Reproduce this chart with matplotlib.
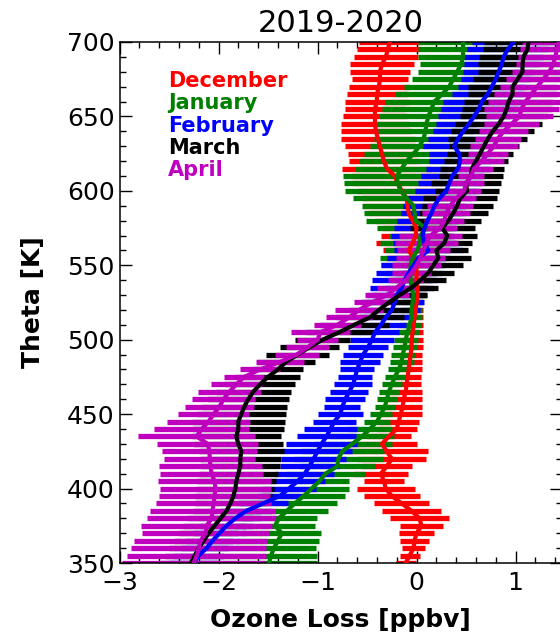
import numpy as np
import matplotlib
matplotlib.use("Agg")
import matplotlib.pyplot as plt
from matplotlib.ticker import MultipleLocator

# potential temperature levels (K), every 5 K
theta = np.arange(350, 701, 5)

months = ["December", "January", "February", "March", "April"]
colors = ["#ff0000", "#008000", "#0000ff", "#000000", "#bf00bf"]

# mean ozone loss (ppbv) per level, 350 K -> 700 K
dec_mean = [-0.11, -0.07, -0.03, -0.02, 0.00, 0.05, 0.03, -0.05, -0.15, -0.25,
            -0.31, -0.33, -0.36, -0.30, -0.25, -0.30, -0.35, -0.28, -0.20, -0.18,
            -0.16, -0.14, -0.13, -0.11, -0.10, -0.09, -0.08, -0.07, -0.06, -0.05,
            -0.05, -0.04, -0.03, -0.02, -0.01, 0.00, 0.01, 0.01, 0.00, 0.00,
            0.00, -0.03, -0.08, -0.04, -0.01, 0.00, -0.04, -0.08, -0.09, -0.10,
            -0.15, -0.19, -0.22, -0.30, -0.33, -0.35, -0.37, -0.39, -0.41, -0.42,
            -0.42, -0.42, -0.40, -0.40, -0.38, -0.37, -0.37, -0.35, -0.31, -0.29, -0.27]
dec_err = [0.10, 0.10, 0.12, 0.15, 0.18, 0.22, 0.30, 0.30, 0.28, 0.28,
           0.29, 0.20, 0.27, 0.25, 0.35, 0.42, 0.35, 0.22, 0.20, 0.20,
           0.22, 0.20, 0.18, 0.16, 0.14, 0.13, 0.13, 0.12, 0.12, 0.12,
           0.12, 0.11, 0.10, 0.09, 0.08, 0.07, 0.08, 0.10, 0.15, 0.20,
           0.25, 0.28, 0.26, 0.37, 0.35, 0.35, 0.38, 0.40, 0.45, 0.45,
           0.45, 0.45, 0.44, 0.45, 0.35, 0.34, 0.35, 0.37, 0.35, 0.34,
           0.32, 0.30, 0.32, 0.30, 0.30, 0.28, 0.30, 0.32, 0.32, 0.31, 0.31]

jan_mean = [-1.49, -1.47, -1.44, -1.40, -1.36, -1.43, -1.39, -1.31, -1.23, -1.14,
            -1.06, -0.98, -0.92, -0.80, -0.79, -0.75, -0.65, -0.55, -0.47, -0.40,
            -0.36, -0.32, -0.30, -0.28, -0.25, -0.22, -0.18, -0.15, -0.14, -0.12,
            -0.11, -0.09, -0.07, -0.05, -0.05, -0.04, -0.03, -0.05, -0.06, -0.06,
            -0.06, -0.04, 0.01, 0.03, 0.04, 0.09, -0.01, -0.02, -0.03, -0.10,
            -0.16, -0.19, -0.20, -0.15, -0.10, -0.03, 0.03, 0.07, 0.09, 0.10,
            0.12, 0.15, 0.18, 0.26, 0.33, 0.37, 0.41, 0.45, 0.47, 0.47, 0.47]
jan_err = [0.48, 0.46, 0.42, 0.41, 0.40, 0.40, 0.38, 0.42, 0.43, 0.42,
           0.38, 0.30, 0.40, 0.38, 0.45, 0.42, 0.40, 0.32, 0.22, 0.13,
           0.11, 0.10, 0.10, 0.10, 0.10, 0.10, 0.11, 0.12, 0.12, 0.12,
           0.12, 0.11, 0.11, 0.11, 0.11, 0.11, 0.14, 0.17, 0.22, 0.26,
           0.30, 0.33, 0.33, 0.40, 0.32, 0.49, 0.50, 0.51, 0.52, 0.54,
           0.56, 0.54, 0.54, 0.47, 0.48, 0.50, 0.50, 0.50, 0.48, 0.50,
           0.50, 0.50, 0.50, 0.48, 0.46, 0.42, 0.40, 0.42, 0.46, 0.46, 0.46]

feb_mean = [-2.25, -2.20, -2.12, -2.06, -1.99, -1.92, -1.83, -1.72, -1.55, -1.38,
            -1.29, -1.20, -1.13, -1.08, -1.04, -1.00, -0.96, -0.91, -0.87, -0.83,
            -0.77, -0.75, -0.72, -0.68, -0.64, -0.62, -0.60, -0.57, -0.54, -0.49,
            -0.45, -0.42, -0.36, -0.31, -0.25, -0.22, -0.20, -0.15, -0.12, -0.08,
            -0.03, 0.02, 0.12, 0.08, 0.06, 0.08, 0.11, 0.15, 0.18, 0.23,
            0.30, 0.33, 0.36, 0.42, 0.44, 0.43, 0.38, 0.42, 0.47, 0.53,
            0.58, 0.63, 0.66, 0.72, 0.76, 0.80, 0.83, 0.86, 0.88, 0.92, 0.98]
feb_err = [0.25, 0.26, 0.26, 0.27, 0.27, 0.27, 0.26, 0.25, 0.25, 0.22,
           0.27, 0.28, 0.30, 0.30, 0.33, 0.35, 0.36, 0.30, 0.27, 0.22,
           0.23, 0.18, 0.20, 0.19, 0.19, 0.17, 0.17, 0.20, 0.20, 0.20,
           0.22, 0.24, 0.25, 0.27, 0.28, 0.30, 0.30, 0.32, 0.33, 0.33,
           0.33, 0.32, 0.35, 0.32, 0.32, 0.31, 0.31, 0.31, 0.32, 0.32,
           0.32, 0.32, 0.32, 0.32, 0.31, 0.30, 0.31, 0.30, 0.30, 0.33,
           0.36, 0.38, 0.39, 0.36, 0.34, 0.35, 0.36, 0.38, 0.40, 0.41, 0.42]

mar_mean = [-2.28, -2.24, -2.20, -2.15, -2.10, -2.04, -1.98, -1.92, -1.88, -1.85,
            -1.83, -1.82, -1.80, -1.78, -1.78, -1.77, -1.80, -1.82, -1.80, -1.80,
            -1.77, -1.74, -1.70, -1.65, -1.58, -1.50, -1.40, -1.32, -1.20, -1.08,
            -0.95, -0.78, -0.63, -0.47, -0.38, -0.28, -0.17, -0.05, 0.04, 0.12,
            0.17, 0.22, 0.20, 0.28, 0.31, 0.26, 0.32, 0.37, 0.41, 0.44,
            0.51, 0.50, 0.55, 0.56, 0.60, 0.64, 0.68, 0.72, 0.77, 0.83,
            0.88, 0.91, 0.93, 0.97, 0.97, 1.02, 1.07, 1.07, 1.08, 1.12, 1.13]
mar_err = [0.30, 0.30, 0.30, 0.30, 0.30, 0.32, 0.33, 0.34, 0.36, 0.39,
           0.39, 0.40, 0.40, 0.40, 0.41, 0.43, 0.45, 0.45, 0.46, 0.47,
           0.45, 0.43, 0.41, 0.38, 0.35, 0.32, 0.25, 0.29, 0.32, 0.30,
           0.28, 0.34, 0.35, 0.34, 0.30, 0.28, 0.28, 0.27, 0.26, 0.26,
           0.30, 0.33, 0.32, 0.28, 0.30, 0.33, 0.33, 0.35, 0.36, 0.37,
           0.32, 0.35, 0.32, 0.32, 0.32, 0.33, 0.35, 0.40, 0.42, 0.44,
           0.44, 0.45, 0.45, 0.45, 0.45, 0.45, 0.45, 0.45, 0.45, 0.45, 0.45]

apr_mean = [-2.25, -2.22, -2.20, -2.18, -2.13, -2.12, -2.07, -2.06, -2.05, -2.04,
            -2.03, -2.04, -2.07, -2.08, -2.09, -2.09, -2.11, -2.22, -2.17, -2.10,
            -2.05, -1.99, -1.95, -1.89, -1.82, -1.74, -1.58, -1.38, -1.21, -1.10,
            -1.00, -0.97, -0.80, -0.68, -0.58, -0.45, -0.30, -0.20, -0.11, -0.05,
            0.00, 0.04, 0.07, 0.10, 0.14, 0.24, 0.28, 0.30, 0.34, 0.40,
            0.48, 0.50, 0.55, 0.58, 0.66, 0.72, 0.78, 0.82, 0.88, 0.96,
            1.04, 1.06, 1.10, 1.16, 1.22, 1.28, 1.34, 1.38, 1.40, 1.42, 1.44]
apr_err = [0.72, 0.70, 0.68, 0.67, 0.64, 0.66, 0.65, 0.63, 0.58, 0.56,
           0.56, 0.57, 0.52, 0.52, 0.46, 0.48, 0.51, 0.59, 0.48, 0.42,
           0.36, 0.35, 0.32, 0.32, 0.26, 0.20, 0.20, 0.24, 0.22, 0.22,
           0.21, 0.30, 0.24, 0.23, 0.24, 0.18, 0.22, 0.20, 0.18, 0.20,
           0.25, 0.25, 0.27, 0.32, 0.32, 0.17, 0.20, 0.24, 0.23, 0.20,
           0.17, 0.18, 0.13, 0.19, 0.22, 0.20, 0.24, 0.23, 0.25, 0.28,
           0.34, 0.38, 0.38, 0.38, 0.38, 0.38, 0.38, 0.38, 0.38, 0.38, 0.38]

means = [dec_mean, jan_mean, feb_mean, mar_mean, apr_mean]
errs = [dec_err, jan_err, feb_err, mar_err, apr_err]

fig = plt.figure(figsize=(5.6, 6.4), dpi=100)
ax = fig.add_axes([0.2134, 0.1203, 0.790, 0.8141])

# spread bars first, then the mean profiles on top
for m, e, c in zip(means, errs, colors):
    m = np.asarray(m)
    e = np.asarray(e)
    ax.hlines(theta, m - e, m + e, color=c, lw=3.8, capstyle="butt", zorder=2)
for m, c in zip(means, colors):
    ax.plot(m, theta, color=c, lw=3.0, zorder=3)

ax.set_xlim(-3, 1.468)
ax.set_ylim(350, 700)
ax.xaxis.set_major_locator(MultipleLocator(1))
ax.xaxis.set_minor_locator(MultipleLocator(0.2))
ax.yaxis.set_major_locator(MultipleLocator(50))
ax.yaxis.set_minor_locator(MultipleLocator(10))
ax.tick_params(which="both", direction="in", top=True, right=True, width=1.0)
ax.tick_params(which="major", length=8.5, labelsize=18)
ax.tick_params(which="minor", length=4.5)
ax.tick_params(axis="x", which="major", pad=6)
for s in ax.spines.values():
    s.set_linewidth(1.1)

ax.set_title("2019-2020", fontsize=22, pad=7)
ax.set_xlabel("Ozone Loss [ppbv]", fontsize=18, fontweight="bold", labelpad=9)
ax.set_ylabel("Theta [K]", fontsize=18, fontweight="bold", labelpad=16)

# coloured month labels as legend
for i, (name, c) in enumerate(zip(months, colors)):
    ax.text(0.11, 0.914 - 0.043 * i, name, color=c, fontsize=15,
            fontweight="bold", transform=ax.transAxes, va="baseline", zorder=4)

fig.savefig("out.png", dpi=100)
